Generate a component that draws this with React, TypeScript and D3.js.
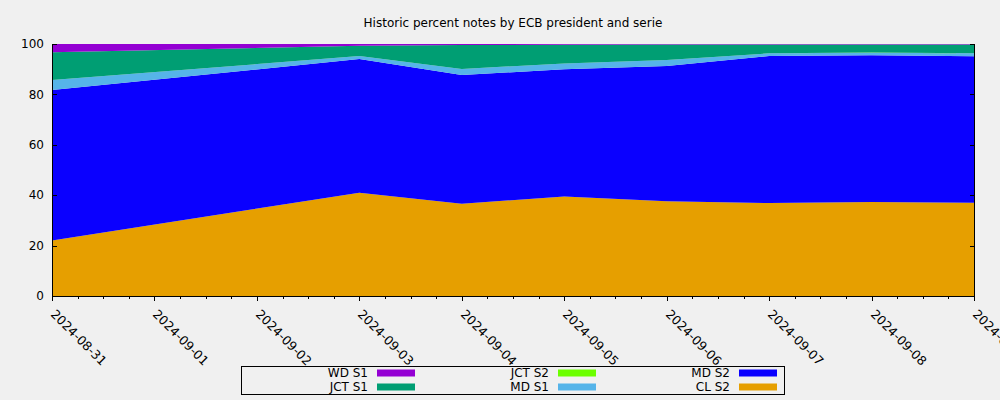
import React from "react";
import * as d3 from "d3";

const dates = ["2024-08-31", "2024-09-03", "2024-09-04", "2024-09-05", "2024-09-06", "2024-09-07", "2024-09-08", "2024-09-09"];
const clS2 = [22.0, 41.0, 36.6, 39.5, 37.6, 36.9, 37.3, 37.0];
const mdS2 = [59.7, 53.0, 51.1, 50.5, 53.7, 58.3, 58.2, 58.1];
const mdS1 = [4.0, 1.2, 2.4, 2.3, 2.4, 1.1, 1.0, 1.2];
const jctS2 = [0, 0, 0, 0, 0, 0, 0.15, 0];
const jctS1 = [11.0, 4.1, 9.5, 7.4, 6.1, 3.5, 3.15, 3.5];
const wdS1 = [3.3, 0.7, 0.4, 0.3, 0.2, 0.2, 0.2, 0.2];

const xTicks = ["2024-08-31", "2024-09-01", "2024-09-02", "2024-09-03", "2024-09-04", "2024-09-05", "2024-09-06", "2024-09-07", "2024-09-08", "2024-09-09"];
const yTicks = [0, 20, 40, 60, 80, 100];

const seriesKeys = ["CL S2", "MD S2", "MD S1", "JCT S2", "JCT S1", "WD S1"];
const seriesValues = [clS2, mdS2, mdS1, jctS2, jctS1, wdS1];
const colors: Record<string, string> = {
  "WD S1": "#9400d3",
  "JCT S1": "#009e73",
  "JCT S2": "#6cff00",
  "MD S1": "#56b4e9",
  "MD S2": "#0a00ff",
  "CL S2": "#e69f00",
};
const legendOrder = [["WD S1", "JCT S1"], ["JCT S2", "MD S1"], ["MD S2", "CL S2"]];

const parse = d3.utcParse("%Y-%m-%d");

export default function App() {
  const W = 1000, H = 400;
  const left = 52, right = 974, top = 44, bottom = 296;
  const x = d3.scaleUtc().domain([parse(xTicks[0])!, parse(xTicks[xTicks.length - 1])!]).range([left, right]);
  const y = d3.scaleLinear().domain([0, 100]).range([bottom, top]);

  const rows = dates.map((d, i) => {
    const r: any = { date: parse(d) };
    seriesKeys.forEach((k, j) => (r[k] = seriesValues[j][i]));
    return r;
  });
  const stacked = d3.stack<any>().keys(seriesKeys)(rows);
  const area = d3
    .area<any>()
    .x((d) => x(d.data.date))
    .y0((d) => y(d[0]))
    .y1((d) => y(d[1]));

  const minorTicks: Date[] = [];
  for (let i = 0; i < xTicks.length - 1; i++) {
    const a = parse(xTicks[i])!.getTime();
    const b = parse(xTicks[i + 1])!.getTime();
    for (let k = 1; k < 4; k++) minorTicks.push(new Date(a + ((b - a) * k) / 4));
  }

  const font = "DejaVu Sans, sans-serif";
  const colX = [368, 549, 730];
  const rowY = [373, 387];

  return (
    <svg width={W} height={H} style={{ position: "absolute", left: 0, top: 0, background: "#f0f0f0" }} fontFamily={font}>
      <rect x={0} y={0} width={W} height={H} fill="#f0f0f0" />
      <text x={513} y={27} textAnchor="middle" fontSize={12} fill="#000">
        Historic percent notes by ECB president and serie
      </text>
      {stacked.map((s) => (
        <path key={s.key} d={area(s) || ""} fill={colors[s.key]} />
      ))}
      <path d={`M${left + 0.5},${top}V${bottom + 0.5}H${right + 0.5}V${top}`} fill="none" stroke="#000" strokeWidth={1} />
      {yTicks.map((t) => (
        <g key={t}>
          <line x1={left} x2={left + 5} y1={Math.round(y(t)) + 0.5} y2={Math.round(y(t)) + 0.5} stroke="#000" />
          <line x1={right - 4} x2={right + 1} y1={Math.round(y(t)) + 0.5} y2={Math.round(y(t)) + 0.5} stroke="#000" />
          <text x={44} y={y(t)} dy="0.35em" textAnchor="end" fontSize={12} fill="#000">
            {t}
          </text>
        </g>
      ))}
      {xTicks.map((t) => {
        const px = Math.round(x(parse(t)!)) + 0.5;
        return (
          <g key={t}>
            <line x1={px} x2={px} y1={bottom} y2={bottom + 5} stroke="#000" />
            <text transform={`translate(${px - 2.5},${315}) rotate(45)`} fontSize={12.5} fill="#000">
              {t}
            </text>
          </g>
        );
      })}
      {minorTicks.map((d, i) => {
        const px = Math.round(x(d)) + 0.5;
        return <line key={i} x1={px} x2={px} y1={bottom} y2={bottom + 3} stroke="#000" />;
      })}
      <rect x={241.5} y={366.5} width={543} height={28} fill="none" stroke="#000" />
      {legendOrder.map((col, ci) =>
        col.map((k, ri) => (
          <g key={k}>
            <text x={colX[ci]} y={rowY[ri]} dy="0.35em" textAnchor="end" fontSize={12} fill="#000">
              {k}
            </text>
            <rect x={colX[ci] + 9} y={rowY[ri] - 3.5} width={38} height={7} fill={colors[k]} />
          </g>
        ))
      )}
    </svg>
  );
}
